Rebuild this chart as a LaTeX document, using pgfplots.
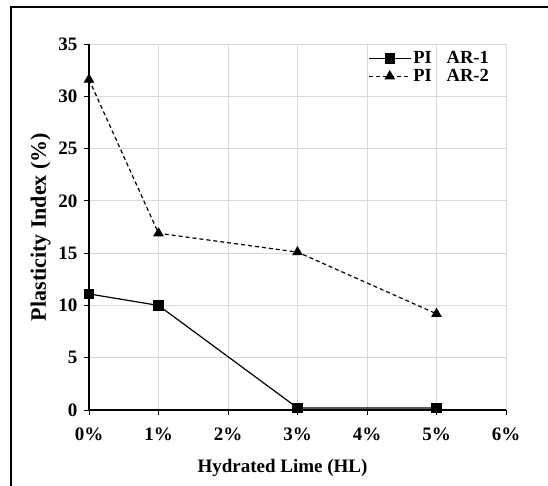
\documentclass[border=0pt]{standalone}
\usepackage{pgfplots}
\pgfplotsset{compat=1.18}
\usepackage{fontspec}
\setmainfont{Liberation Serif}

\pgfplotstableread{
x   y
0   11.1
1   10.0
3   0.2
5   0.2
}\arone

\pgfplotstableread{
x   y
0   31.6
1   16.9
3   15.1
5   9.2
}\artwo

\begin{document}
\begin{tikzpicture}[x=1pt,y=1pt]
\useasboundingbox (0,0) rectangle (548,485);
% outer frame (left and top edges)
\draw[line width=1.3pt] (11,-2) -- (11,478) -- (550,478);
\begin{axis}[
  at={(89pt,75pt)}, anchor=origin,
  scale only axis,
  width=417pt, height=366pt,
  xmin=0, xmax=6, ymin=0, ymax=35,
  xtick={0,1,2,3,4,5,6},
  xticklabels={0\%,1\%,2\%,3\%,4\%,5\%,6\%},
  ytick={0,5,10,15,20,25,30,35},
  yticklabels={0,5,10,15,20,25,30,35},
  axis x line*=bottom, axis y line*=left,
  axis line style={line width=1.2pt, -},
  tick align=outside,
  major tick length=5pt,
  tick style={black, line width=1pt},
  grid=major,
  major grid style={draw=black!15, line width=1pt},
  tick label style={font=\fontsize{19}{22}\selectfont\bfseries},
  xticklabel style={yshift=-9pt},
  yticklabel style={xshift=-3pt},
  xlabel={Hydrated Lime (HL)},
  ylabel={Plasticity Index (\%)},
  xlabel style={font=\fontsize{19}{22}\selectfont\bfseries,
    yshift=-12pt, xshift=-15pt},
  ylabel style={font=\fontsize{22}{25}\selectfont\bfseries, yshift=1pt},
  legend style={at={(0.669,0.985)}, anchor=north west, draw=none, fill=none,
    font=\fontsize{18.5}{21.5}\selectfont\bfseries, row sep=0pt,
    inner sep=0pt, nodes={inner sep=2pt}},
  legend cell align=left,
  legend image code/.code={
    \draw[mark repeat=2,mark phase=2]
      plot coordinates {(0pt,0pt) (21pt,0pt) (42pt,0pt)};
  },
]
\addplot[black, line width=1.2pt, mark=square*, mark size=4.6pt,
  mark options={solid}] table[x=x,y=y] {\arone};
\addlegendentry{PI\hspace{0.8em}AR-1}
\addplot[black, line width=1.2pt, dash pattern=on 4pt off 3pt,
  mark=triangle*, mark size=5pt, mark options={solid}] table[x=x,y=y] {\artwo};
\addlegendentry{PI\hspace{0.8em}AR-2}
\end{axis}
\end{tikzpicture}
\end{document}
